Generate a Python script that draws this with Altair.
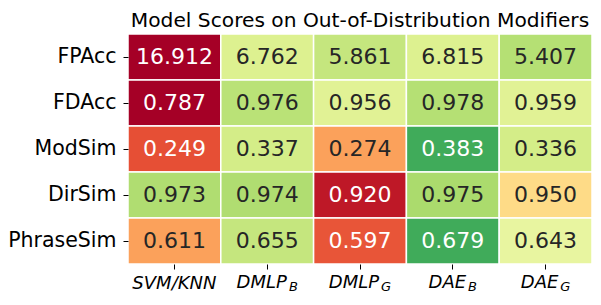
import altair as alt
import pandas as pd

# ---- data ----
title_text = "Model Scores on Out-of-Distribution Modifiers"
metrics = ["FPAcc", "FDAcc", "ModSim", "DirSim", "PhraseSim"]
models = ["SVM/KNN", "DMLP_B", "DMLP_G", "DAE_B", "DAE_G"]
label_main = ["SVM/KNN", "DMLP", "DMLP", "DAE", "DAE"]
label_sub = ["", "B", "G", "B", "G"]

scores = {
    "FPAcc":     [16.912, 6.762, 5.861, 6.815, 5.407],
    "FDAcc":     [0.787, 0.976, 0.956, 0.978, 0.959],
    "ModSim":    [0.249, 0.337, 0.274, 0.383, 0.336],
    "DirSim":    [0.973, 0.974, 0.920, 0.975, 0.950],
    "PhraseSim": [0.611, 0.655, 0.597, 0.679, 0.643],
}
# colour level of each cell on the RdYlGn colormap (0 = red, 1 = green)
levels = {
    "FPAcc":     [0.00, 0.59, 0.64, 0.59, 0.67],
    "FDAcc":     [0.00, 0.66, 0.58, 0.67, 0.58],
    "ModSim":    [0.15, 0.61, 0.28, 0.85, 0.61],
    "DirSim":    [0.68, 0.68, 0.05, 0.69, 0.39],
    "PhraseSim": [0.28, 0.64, 0.16, 0.85, 0.56],
}

rows = []
for m in metrics:
    for j, mod in enumerate(models):
        rows.append({"metric": m, "model": mod, "score": scores[m][j], "level": levels[m][j]})
df = pd.DataFrame(rows)
lab_df = pd.DataFrame({"model": models, "main": label_main, "sub": label_sub})
title_df = pd.DataFrame({"t": [title_text]})

rdylgn = ["#a50026", "#d73027", "#f46d43", "#fdae61", "#fee08b", "#ffffbf",
          "#d9ef8b", "#a6d96a", "#66bd63", "#1a9850", "#006837"]
dom = [i / 10 for i in range(11)]

W, H = 464, 230
FONT = "DejaVu Sans"

x_enc = alt.X("model:N", sort=models, scale=alt.Scale(paddingInner=0, paddingOuter=0),
              axis=alt.Axis(title=None, labels=False, ticks=True, tickSize=5, tickColor="black",
                            domain=False, grid=False))
y_enc = alt.Y("metric:N", sort=metrics, scale=alt.Scale(paddingInner=0, paddingOuter=0),
              axis=alt.Axis(title=None, labelFontSize=20.5, labelColor="black", labelFont=FONT,
                            tickSize=5, tickColor="black", labelPadding=7, domain=False, grid=False))

base = alt.Chart(df)
rect = base.mark_rect(stroke="white", strokeWidth=1.5).encode(
    x=x_enc, y=y_enc,
    color=alt.Color("level:Q", scale=alt.Scale(domain=dom, range=rdylgn, interpolate="rgb"), legend=None),
)
txt = base.mark_text(fontSize=22, font=FONT, baseline="middle").encode(
    x=alt.X("model:N", sort=models),
    y=alt.Y("metric:N", sort=metrics),
    text=alt.Text("score:Q", format=".3f"),
    color=alt.condition("datum.level < 0.2 || datum.level > 0.8", alt.value("white"), alt.value("#262626")),
)
title_mark = alt.Chart(title_df).mark_text(fontSize=20.2, font=FONT, align="center",
                                           baseline="alphabetic", color="black").encode(
    x=alt.value(W / 2), y=alt.value(-7), text="t:N")

# x tick labels with subscripts
cw = {"D": 0.770, "M": 0.863, "L": 0.557, "P": 0.603, "A": 0.684, "E": 0.632,
      "B": 0.686, "G": 0.775, "S": 0.635, "V": 0.684, "K": 0.656, "N": 0.748, "/": 0.337}
FS_MAIN, FS_SUB, GAP = 18, 13, 2
layers = [rect, txt, title_mark]
for mod, main, sub in zip(models, label_main, label_sub):
    d = alt.Chart(lab_df).transform_filter(alt.datum.model == mod)
    if not sub:
        layers.append(d.mark_text(fontSize=FS_MAIN, font=FONT, fontStyle="italic", align="center",
                                  baseline="alphabetic", color="black").encode(
            x=alt.X("model:N", sort=models), y=alt.value(H + 25), text="main:N"))
    else:
        mw = sum(cw[c] for c in main) * FS_MAIN
        sw = cw[sub] * FS_SUB + GAP
        k = (mw - sw) / 2
        layers.append(d.mark_text(fontSize=FS_MAIN, font=FONT, fontStyle="italic", align="right",
                                  baseline="alphabetic", dx=k, color="black").encode(
            x=alt.X("model:N", sort=models), y=alt.value(H + 24), text="main:N"))
        layers.append(d.mark_text(fontSize=FS_SUB, font=FONT, fontStyle="italic", align="left",
                                  baseline="alphabetic", dx=k + GAP, color="black").encode(
            x=alt.X("model:N", sort=models), y=alt.value(H + 27), text="sub:N"))

chart = alt.layer(*layers).properties(
    width=W, height=H,
    autosize=alt.AutoSizeParams(type="none"),
    padding={"left": 120, "top": 26, "right": 1, "bottom": 33},
).configure_view(stroke=None).configure_axis(labelFont=FONT)

chart.save("out.html", embed_options={"renderer": "svg", "actions": False})
